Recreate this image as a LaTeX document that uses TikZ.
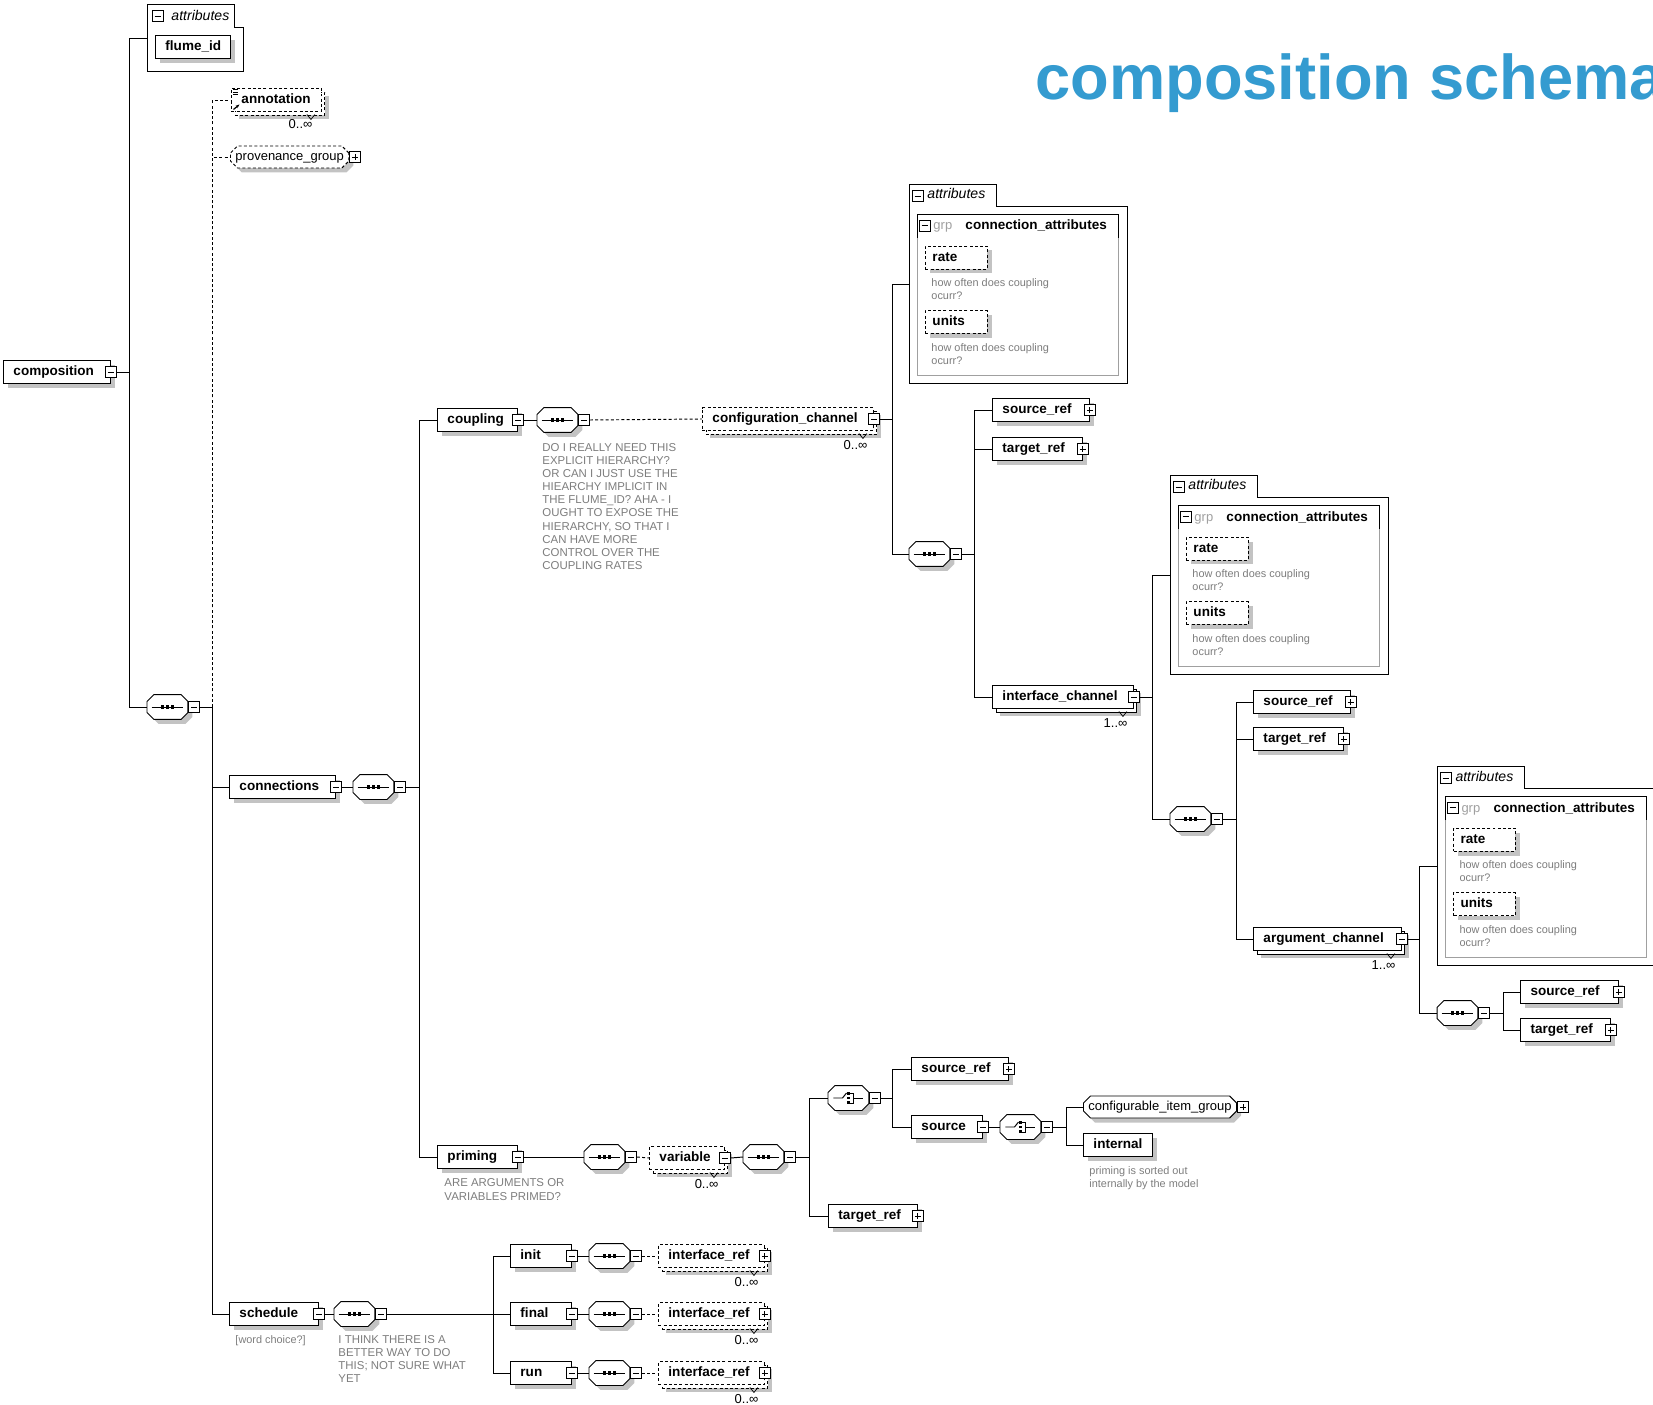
\documentclass[tikz,border=0pt]{standalone}
\usepackage{fontspec}
\setmainfont{Liberation Sans}
\usetikzlibrary{shapes.misc,shadows,arrows.meta}

\definecolor{titleblue}{RGB}{52,155,208}
\definecolor{notegray}{RGB}{125,125,125}
\definecolor{shadegray}{RGB}{195,195,195}
\definecolor{framegray}{RGB}{160,160,160}

\newcommand\elemfont{\fontsize{7.7}{9}\selectfont\bfseries}
\newcommand\plainfont{\fontsize{7.4}{9}\selectfont}
\newcommand\notefont{\fontsize{6.5}{7.45}\selectfont}
\newcommand\descfont{\fontsize{6.2}{7.6}\selectfont}
\newcommand\tabfont{\fontsize{8}{9}\selectfont\itshape}
\newcommand\titlefont{\fontsize{36}{40}\selectfont\bfseries}
\hyphenpenalty=10000

% octagon of a compositor, #1 node, #2 offset
\newcommand\octpath[2]{([shift={#2},yshift=-0.14cm]#1.north west) -- ([shift={#2},xshift=0.14cm]#1.north west)
  -- ([shift={#2},xshift=-0.14cm]#1.north east) -- ([shift={#2},yshift=-0.14cm]#1.north east)
  -- ([shift={#2},yshift=0.14cm]#1.south east) -- ([shift={#2},xshift=-0.14cm]#1.south east)
  -- ([shift={#2},xshift=0.14cm]#1.south west) -- ([shift={#2},yshift=0.14cm]#1.south west) -- cycle}
\newcommand\seqsym[1]{%
  \draw ([xshift=0.09cm]#1.west) -- ([xshift=-0.09cm]#1.east);
  \foreach \d in {-0.1,0,0.1}
    \fill[black] ([shift={(\d cm-0.035cm,-0.035cm)}]#1.center) rectangle ++(0.07cm,0.07cm);}
\newcommand\choicesym[1]{%
  \draw ([xshift=-0.3cm]#1.center) -- ([xshift=-0.12cm]#1.center) -- ([shift={(-0.04cm,0.1cm)}]#1.center);
  \foreach \d in {-0.09,0,0.09}
    \fill[black] ([shift={(-0.025cm,\d cm-0.025cm)}]#1.center) rectangle ++(0.05cm,0.05cm);
  \draw ([shift={(0.04cm,0.1cm)}]#1.center) -| ([shift={(0.1cm,-0.1cm)}]#1.center) -- ++(-0.06cm,0cm);
  \draw ([xshift=0.1cm]#1.center) -- ([xshift=0.3cm]#1.center);}

\tikzset{
  shadowed/.style={drop shadow={shadow xshift=0.09cm,shadow yshift=-0.09cm,fill=shadegray,opacity=1}},
  stacked/.style={drop shadow={shadow xshift=0.15cm,shadow yshift=-0.15cm,fill=shadegray,opacity=1},
    copy shadow={shadow xshift=0.07cm,shadow yshift=-0.07cm,fill=white,draw=black}},
  elbox/.style={draw,fill=white,font=\elemfont,anchor=west,minimum height=0.46cm,
    inner xsep=0.2cm,inner ysep=0pt,text height=5.6pt,text depth=1.6pt,text width=#1,align=left},
  el/.style={elbox=#1,shadowed},
  many/.style={elbox=#1,stacked},
  opt/.style={dash pattern=on 0.06cm off 0.045cm},
  attrel/.style={elbox=0.96cm,inner xsep=0.14cm,opt,shadowed},
  tgminus/.style={draw,fill=white,minimum size=0.22cm,inner sep=0pt,
    path picture={\draw ([xshift=0.05cm]path picture bounding box.west) -- ([xshift=-0.05cm]path picture bounding box.east);}},
  tgplus/.style={draw,fill=white,minimum size=0.22cm,inner sep=0pt,
    path picture={\draw ([xshift=0.05cm]path picture bounding box.west) -- ([xshift=-0.05cm]path picture bounding box.east);
      \draw ([yshift=0.05cm]path picture bounding box.south) -- ([yshift=-0.05cm]path picture bounding box.north);}},
  compo/.style={draw=none,anchor=west,minimum width=0.8cm,minimum height=0.48cm,inner sep=0pt,
    append after command={\pgfextra{
      \fill[shadegray] \octpath{\tikzlastnode}{(0.09cm,-0.09cm)};
      \filldraw[fill=white] \octpath{\tikzlastnode}{(0cm,0cm)};
      #1{\tikzlastnode}}}},
  seqc/.style={compo=\seqsym},
  choicec/.style={compo=\choicesym},
  grpc/.style={chamfered rectangle,chamfered rectangle xsep=0.06cm,chamfered rectangle ysep=0.08cm,
    draw,fill=white,font=\plainfont,anchor=west,minimum width=#1,minimum height=0.44cm,
    inner xsep=0.04cm,inner ysep=0pt,text height=5.4pt,text depth=1.6pt,shadowed},
  note/.style={anchor=base west,inner sep=0pt,align=left,font=\notefont,text=notegray},
  descnote/.style={note,font=\descfont},
  occurs/.style={anchor=base east,inner sep=0pt,font=\plainfont},
  attrbox/.pic={
    \draw[fill=white] (0,0) -| (87,22) -| (218,199) -- (0,199) -- cycle;
    \draw[framegray] (8,30) rectangle (209,191);
    \draw (8,54) |- (209,30) -- (209,54);
    \node[tgminus] (-tog) at (8.5,12) {};
    \node[anchor=base west,inner sep=0pt,font=\tabfont] (-title) at (18,15) {attributes};
    \node[tgminus] (-gtog) at (15.5,41.5) {};
    \node[anchor=base west,inner sep=0pt,font=\plainfont,text=framegray] (-grp) at (24,46) {grp};
    \node[anchor=base west,inner sep=0pt,font=\elemfont] (-gname) at (56,46) {connection\_attributes};
    \node[attrel] (-rate) at (16,73.5) {rate};
    \node[descnote] (-ratenote) at (22,115.4) {how often does coupling\\ocurr?};
    \node[attrel] (-units) at (16,138) {units};
    \node[descnote] (-unitsnote) at (22,180.4) {how often does coupling\\ocurr?};
    \coordinate (-link) at (0,100);
  }
}

\begin{document}
\begin{tikzpicture}[x=0.02cm,y=-0.02cm,line width=0.55pt]
\useasboundingbox (0,0) rectangle (1653,1405);
\clip (0,0) rectangle (1653,1405);

\node[anchor=base west,inner sep=0pt,font=\titlefont,text=titleblue] (title) at (1035,100) {composition schema};

% root
\node[el=1.74cm] (comp) at (3,372) {composition};
\node[tgminus] (compt) at (comp.east) {};
\draw[fill=white] (147,4) -| (234,27) -| (243,71) -- (147,71) -- cycle;
\node[tgminus] (a0tog) at (157.5,16) {};
\node[anchor=base west,inner sep=0pt,font=\tabfont] (a0title) at (171,21) {attributes};
\coordinate (a0link) at (147,38);
\node[el=1.1cm] (flume) at (155,47) {flume\_id};

\node[seqc] (seq0) at (147,707) {};
\node[tgminus,anchor=west] (seq0t) at (seq0.east) {};
\draw (compt.east) -- ++(13,0) coordinate (jc);
\draw (jc) |- (a0link);
\draw (jc) |- (seq0.west);

% optional head
\node[many=1.4cm,opt] (annot) at (231,100) {annotation};
\node[occurs] (annotocc) at ([shift={(-0.18cm,-0.34cm)}]annot.south east) {0..∞};
\foreach \d in {0,0.05,0.1}
  \draw[line width=0.35pt] ([shift={(0.04cm,-0.03cm-\d cm)}]annot.north west) -- ++(0.1cm,0cm);
\draw[-{Stealth[length=0.08cm]},line width=0.7pt] ([shift={(0.05cm,0.05cm)}]annot.south west) -- ++(0.12cm,0.1cm);
\node[grpc=2.36cm,opt] (prov) at (230,157) {provenance\_group};
\node[tgplus,anchor=west] (provt) at (prov.east) {};
\draw (seq0t.east) -- ++(13,0) coordinate (js0);
\draw[opt] (js0) |- (annot.west);
\draw[opt] (js0) |- (prov.west);

% connections
\node[el=1.72cm] (connections) at (229,787) {connections};
\node[tgminus] (connt) at (connections.east) {};
\node[seqc] (seq1) at (353,787) {};
\node[tgminus,anchor=west] (seq1t) at (seq1.east) {};
\draw (js0) |- (connections.west);
\draw (connt.east) -- (seq1.west);
\draw (seq1t.east) -- ++(14,0) coordinate (js1);

% coupling
\node[el=1.2cm] (coupling) at (437,420) {coupling};
\node[tgminus] (couplingt) at (coupling.east) {};
\node[seqc] (seq2) at (537,420) {};
\node[tgminus,anchor=west] (seq2t) at (seq2.east) {};
\node[note] (couplenote) at (542,569.3) {DO I REALLY NEED THIS\\EXPLICIT HIERARCHY?\\OR CAN I JUST USE THE\\HIEARCHY IMPLICIT IN\\THE FLUME\_ID? AHA - I\\OUGHT TO EXPOSE THE\\HIERARCHY, SO THAT I\\CAN HAVE MORE\\CONTROL OVER THE\\COUPLING RATES};
\node[many=3.02cm,opt] (cc) at (702,419) {configuration\_channel};
\node[tgminus] (cct) at (cc.east) {};
\node[occurs] (ccocc) at ([shift={(-0.12cm,-0.38cm)}]cc.south east) {0..∞};
\draw (js1) |- (coupling.west);
\draw (couplingt.east) -- (seq2.west);
\draw[opt] (seq2t.east) -- (cc.west);

\pic (a1) at (909,184) {attrbox};
\node[seqc] (seq3) at (909,554) {};
\node[tgminus,anchor=west] (seq3t) at (seq3.east) {};
\draw (cct.east) -- ++(13,0) coordinate (jcc);
\draw (jcc) |- (a1-link);
\draw (jcc) |- (seq3.west);

\node[el=1.54cm] (sr1) at (992,410) {source\_ref};
\node[tgplus] (sr1t) at (sr1.east) {};
\node[el=1.4cm] (tr1) at (992,449) {target\_ref};
\node[tgplus] (tr1t) at (tr1.east) {};
\node[many=2.42cm] (ic) at (992,697) {interface\_channel};
\node[tgminus] (ict) at (ic.east) {};
\node[occurs] (icocc) at ([shift={(-0.12cm,-0.38cm)}]ic.south east) {1..∞};
\draw (seq3t.east) -- ++(13,0) coordinate (js3);
\draw (js3) |- (sr1.west);
\draw (js3) |- (tr1.west);
\draw (js3) |- (ic.west);

\pic (a2) at (1170,475) {attrbox};
\node[seqc] (seq4) at (1170,819) {};
\node[tgminus,anchor=west] (seq4t) at (seq4.east) {};
\draw (ict.east) -- ++(13,0) coordinate (jic);
\draw (jic) |- (a2-link);
\draw (jic) |- (seq4.west);

\node[el=1.54cm] (sr2) at (1253,702) {source\_ref};
\node[tgplus] (sr2t) at (sr2.east) {};
\node[el=1.4cm] (tr2) at (1253,739) {target\_ref};
\node[tgplus] (tr2t) at (tr2.east) {};
\node[many=2.56cm] (ac) at (1253,939) {argument\_channel};
\node[tgminus] (act) at (ac.east) {};
\node[occurs] (acocc) at ([shift={(-0.12cm,-0.38cm)}]ac.south east) {1..∞};
\draw (seq4t.east) -- ++(14,0) coordinate (js4);
\draw (js4) |- (sr2.west);
\draw (js4) |- (tr2.west);
\draw (js4) |- (ac.west);

\pic (a3) at (1437,766) {attrbox};
\node[seqc] (seq5) at (1437,1013) {};
\node[tgminus,anchor=west] (seq5t) at (seq5.east) {};
\draw (act.east) -- ++(12,0) coordinate (jac);
\draw (jac) |- (a3-link);
\draw (jac) |- (seq5.west);

\node[el=1.56cm] (sr3) at (1520,992) {source\_ref};
\node[tgplus] (sr3t) at (sr3.east) {};
\node[el=1.4cm] (tr3) at (1520,1030) {target\_ref};
\node[tgplus] (tr3t) at (tr3.east) {};
\draw (seq5t.east) -- ++(14,0) coordinate (js5);
\draw (js5) |- (sr3.west);
\draw (js5) |- (tr3.west);

% priming
\node[el=1.2cm] (priming) at (437,1157) {priming};
\node[tgminus] (primingt) at (priming.east) {};
\node[note] (primenote) at (444,1200) {ARE ARGUMENTS OR\\VARIABLES PRIMED?};
\node[seqc] (seq6) at (584,1157) {};
\node[tgminus,anchor=west] (seq6t) at (seq6.east) {};
\node[many=1.1cm,opt] (var) at (649,1158) {variable};
\node[tgminus] (vart) at (var.east) {};
\node[occurs] (varocc) at ([shift={(-0.12cm,-0.38cm)}]var.south east) {0..∞};
\node[seqc] (seq7) at (743,1157) {};
\node[tgminus,anchor=west] (seq7t) at (seq7.east) {};
\draw (js1) |- (priming.west);
\draw (primingt.east) -- (seq6.west);
\draw[opt] (seq6t.east) -- (var.west);
\draw (vart.east) -- (seq7.west);

\node[choicec] (ch1) at (828,1098) {};
\node[tgminus,anchor=west] (ch1t) at (ch1.east) {};
\node[el=1.38cm] (tr4) at (828,1216) {target\_ref};
\node[tgplus] (tr4t) at (tr4.east) {};
\draw (seq7t.east) -- ++(14,0) coordinate (js7);
\draw (js7) |- (ch1.west);
\draw (js7) |- (tr4.west);

\node[el=1.54cm] (sr4) at (911,1069) {source\_ref};
\node[tgplus] (sr4t) at (sr4.east) {};
\node[el=1.02cm] (src) at (911,1127) {source};
\node[tgminus] (srct) at (src.east) {};
\draw (ch1t.east) -- ++(12,0) coordinate (jch1);
\draw (jch1) |- (sr4.west);
\draw (jch1) |- (src.west);

\node[choicec] (ch2) at (1000,1127) {};
\node[tgminus,anchor=west] (ch2t) at (ch2.east) {};
\node[grpc=2.92cm] (cig) at (1083,1107) {configurable\_item\_group};
\node[tgplus,anchor=west] (cigt) at (cig.east) {};
\node[el=0.98cm] (internal) at (1083,1145) {internal};
\node[descnote] (internalnote) at (1089,1187.4) {priming is sorted out\\internally by the model};
\draw (srct.east) -- (ch2.west);
\draw (ch2t.east) -- ++(14,0) coordinate (jch2);
\draw (jch2) |- (cig.west);
\draw (jch2) |- (internal.west);

% schedule
\node[el=1.38cm] (schedule) at (229,1314) {schedule};
\node[tgminus] (schedt) at (schedule.east) {};
\node[descnote] (schednote) at (235,1343) {[word choice?]};
\node[seqc] (seq8) at (334,1314) {};
\node[tgminus,anchor=west] (seq8t) at (seq8.east) {};
\node[note] (seqnote) at (338,1382.4) {I THINK THERE IS A\\BETTER WAY TO DO\\THIS; NOT SURE WHAT\\YET};
\draw (js0) |- (schedule.west);
\draw (schedt.east) -- (seq8.west);
\draw (seq8t.east) -- ++(107,0) coordinate (js8);

\foreach \n/\y in {init/1256,final/1314,run/1373}{
  \node[el=0.82cm] (\n) at (510,\y) {\n};
  \node[tgminus] (\n-t) at (\n.east) {};
  \node[seqc] (\n-seq) at (589,\y) {};
  \node[tgminus,anchor=west] (\n-seqt) at (\n-seq.east) {};
  \node[many=1.72cm,opt] (\n-ref) at (658,\y) {interface\_ref};
  \node[tgplus] (\n-reft) at (\n-ref.east) {};
  \node[occurs] (\n-occ) at ([shift={(-0.12cm,-0.38cm)}]\n-ref.south east) {0..∞};
  \draw (js8) |- (\n.west);
  \draw (\n-t.east) -- (\n-seq.west);
  \draw[opt] (\n-seqt.east) -- (\n-ref.west);
}

% repeat marks
\foreach \n in {annot,cc,ic,ac,var,init-ref,final-ref,run-ref}
  \draw[line width=0.4pt] ([shift={(-0.3cm,-0.05cm)}]\n.south east) -- ++(0.08cm,-0.1cm) -- ++(0.08cm,0.1cm);

\end{tikzpicture}
\end{document}
